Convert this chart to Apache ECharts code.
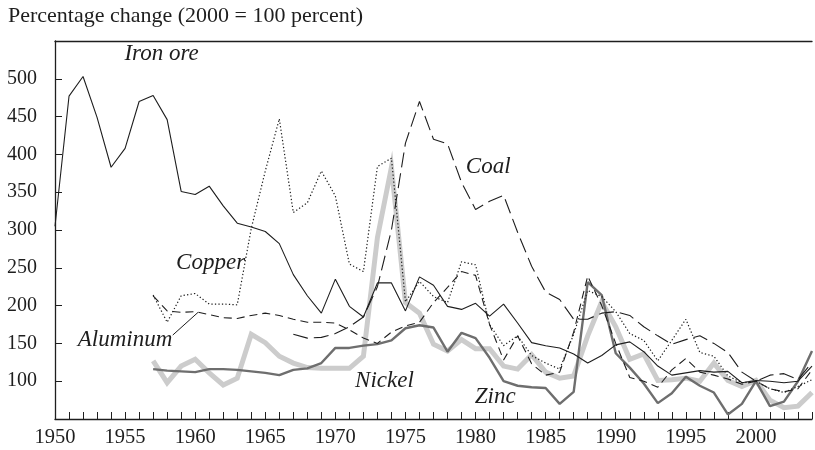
<!DOCTYPE html>
<html><head><meta charset="utf-8">
<script src="https://cdn.jsdelivr.net/npm/echarts@6/dist/echarts.min.js"></script>
<style>html,body{margin:0;padding:0;background:#fff}#c{width:815px;height:450px}</style>
</head><body><div id="c"></div>
<script>
// ---- data ----
const yearsIron = [1950,1951,1952,1953,1954,1955,1956,1957,1958,1959,1960,1961,1962,1963,1964,1965,1966,1967,1968,1969,1970,1971,1972,1973,1974,1975,1976,1977,1978,1979,1980,1981,1982,1983,1984,1985,1986,1987,1988,1989,1990,1991,1992,1993,1994,1995,1996,1997,1998,1999,2000,2001,2002,2003,2004];
const years1957 = [1957,1958,1959,1960,1961,1962,1963,1964,1965,1966,1967,1968,1969,1970,1971,1972,1973,1974,1975,1976,1977,1978,1979,1980,1981,1982,1983,1984,1985,1986,1987,1988,1989,1990,1991,1992,1993,1994,1995,1996,1997,1998,1999,2000,2001,2002,2003,2004];
const yearsCoal = [1967,1968,1969,1970,1971,1972,1973,1974,1975,1976,1977,1978,1979,1980,1981,1982,1983,1984,1985,1986,1987,1988,1989,1990,1991,1992,1993,1994,1995,1996,1997,1998,1999,2000,2001,2002,2003,2004];

const ironOre = [305,477,503,449,383,408,470,478,446,351,347,358,332,309,304,298,282,241,213,190,235,199,185,230,230,193,238,227,199,195,203,186,202,177,151,147,144,136,124,134,148,152,139,120,108,111,114,112,113,98,101,100,98,100,120];
const copper = [214,178,213,216,202,202,201,302,378,447,323,336,378,345,255,245,384,395,205,232,212,204,258,254,175,147,160,134,124,116,162,220,212,192,163,154,127,154,182,138,133,107,98,100,90,85,93,102];
const aluminum = [213,193,191,192,188,184,183,187,190,187,182,178,178,177,168,157,150,165,173,178,204,224,245,240,175,128,160,123,108,112,165,239,200,150,105,100,92,115,130,112,108,103,96,100,90,86,90,115];
const coal = [162,157,158,163,172,185,225,300,415,470,420,414,363,327,338,346,297,252,218,208,182,182,190,192,187,172,160,149,155,160,150,138,112,100,108,110,102,125];
const nickel = [127,98,120,129,111,95,104,162,151,133,124,118,117,117,117,133,290,383,204,190,149,140,155,143,143,120,116,135,112,104,107,160,205,172,129,136,101,102,104,100,124,101,93,101,75,65,67,85];
const zinc = [116,114,113,112,116,116,115,113,111,108,115,117,124,144,144,147,149,154,170,174,171,139,164,157,131,100,94,92,91,70,86,231,214,137,118,97,71,84,106,94,85,56,70,100,67,73,100,140];

const yTicks = [100,150,200,250,300,350,400,450,500];
const xLabelYears = [1950,1955,1960,1965,1970,1975,1980,1985,1990,1995,2000];
const titleText = 'Percentage change (2000 = 100 percent)';
// series label anchors in data space [year, value]
const labels = [
  {text:'Iron ore', at:[1957.6,533]},
  {text:'Coal', at:[1980.9,383]},
  {text:'Copper', at:[1961.1,257]},
  {text:'Aluminum', at:[1955.0,155]},
  {text:'Nickel', at:[1973.5,100]},
  {text:'Zinc', at:[1981.4,79]}
];
const leader = {from:[1958.4,161], to:[1960.2,191]};

// ---- chart ----
const FONT = '"Liberation Serif", "DejaVu Serif", serif';
const INK = '#1e1e1e';
const pair = (xs, vs) => xs.map((x,i)=>[x, vs[i]]);
const chart = echarts.init(document.getElementById('c'), null, {renderer:'canvas'});

const option = {
  animation:false,
  backgroundColor:'#fff',
  title:{text:titleText, left:3, top:0, textStyle:{fontFamily:FONT, fontSize:22, fontWeight:'normal', color:INK}},
  grid:{left:55, right:0, top:41, bottom:31, containLabel:false},
  xAxis:[{
    type:'value', min:1950, max:2004, interval:1,
    axisLine:{show:true, lineStyle:{color:INK, width:1.3}},
    axisTick:{show:true, inside:true, length:7, lineStyle:{color:INK, width:1}},
    axisLabel:{margin:8, fontFamily:FONT, fontSize:20.5, color:INK,
      formatter:v=> xLabelYears.indexOf(v)>=0 ? String(v) : ''},
    splitLine:{show:false}
  },{
    type:'value', min:1950, max:2004, position:'top',
    axisLine:{show:true, onZero:false, lineStyle:{color:INK, width:1.3}},
    axisTick:{show:false}, axisLabel:{show:false}, splitLine:{show:false}
  }],
  yAxis:{
    type:'value', min:50, max:550, interval:50,
    axisLine:{show:true, lineStyle:{color:INK, width:1.3}},
    axisTick:{show:true, inside:true, length:7, lineStyle:{color:INK, width:1}},
    axisLabel:{margin:18, fontFamily:FONT, fontSize:20, color:INK,
      formatter:v=> yTicks.indexOf(v)>=0 ? String(v) : ''},
    splitLine:{show:false}
  },
  series:[
    {name:'Nickel', type:'line', data:pair(years1957,nickel), showSymbol:false, symbol:'none',
      lineStyle:{color:'#cccccc', width:5, join:'miter'}},
    {name:'Zinc', type:'line', data:pair(years1957,zinc), showSymbol:false, symbol:'none',
      lineStyle:{color:'#6e6e6e', width:2.4}},
    {name:'Aluminum', type:'line', data:pair(years1957,aluminum), showSymbol:false, symbol:'none',
      lineStyle:{color:INK, width:1.1, type:[8,5]}},
    {name:'Coal', type:'line', data:pair(yearsCoal,coal), showSymbol:false, symbol:'none',
      lineStyle:{color:INK, width:1.1, type:[15,6]}},
    {name:'Copper', type:'line', data:pair(years1957,copper), showSymbol:false, symbol:'none',
      lineStyle:{color:INK, width:1.2, type:[1.3,2.2]}},
    {name:'Iron ore', type:'line', data:pair(yearsIron,ironOre), showSymbol:false, symbol:'none',
      lineStyle:{color:INK, width:1.1}}
  ]
};
chart.setOption(option);

const px = p => chart.convertToPixel({xAxisIndex:0, yAxisIndex:0}, p);
const g = labels.map(l => {
  const p = px(l.at);
  return {type:'text', x:p[0], y:p[1], style:{text:l.text, fill:INK, font:'italic 23px ' + FONT, align:'center', verticalAlign:'middle'}, z:100};
});
const a = px(leader.from), b = px(leader.to);
g.push({type:'line', shape:{x1:a[0], y1:a[1], x2:b[0], y2:b[1]}, style:{stroke:INK, lineWidth:1}, z:100});
chart.setOption({graphic:g});
</script>
</body></html>
